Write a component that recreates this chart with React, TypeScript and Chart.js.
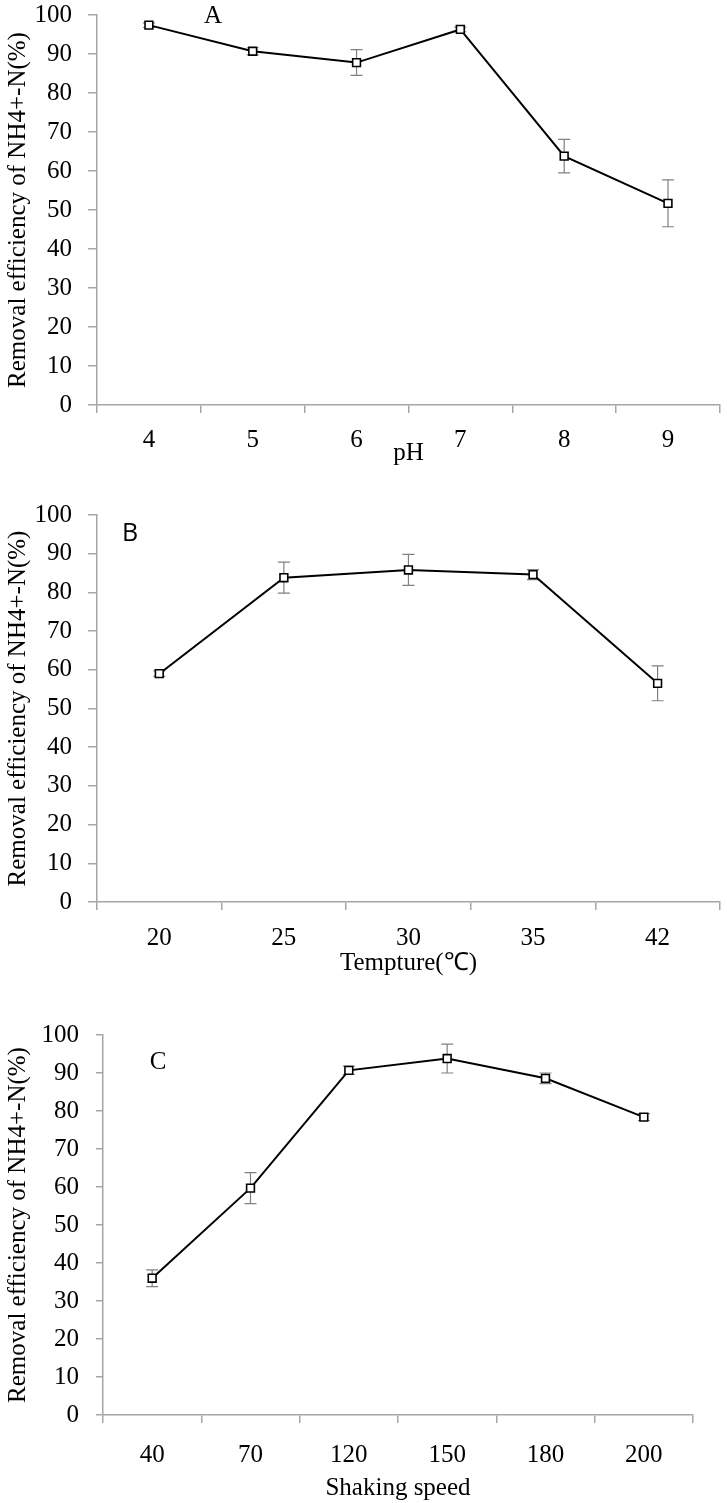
import React, { useEffect, useRef } from "react";
import { Chart, registerables } from "chart.js";

Chart.register(...registerables);

// ---------- data ----------
const phLabels = ["4", "5", "6", "7", "8", "9"];
const phValues = [97.4, 90.7, 87.8, 96.3, 63.8, 51.7];
const phErrors = [0.6, 0.9, 3.3, 0.6, 4.3, 6.0];

const tempLabels = ["20", "25", "30", "35", "42"];
const tempValues = [59.0, 83.8, 85.8, 84.6, 56.5];
const tempErrors = [0.7, 4.0, 4.0, 1.3, 4.5];

const speedLabels = ["40", "70", "120", "150", "180", "200"];
const speedValues = [36.0, 59.7, 90.7, 93.8, 88.6, 78.4];
const speedErrors = [2.2, 4.1, 1.1, 3.8, 1.4, 0.9];

const yMin = 0;
const yMax = 100;
const yStep = 10;
const yTitle = "Removal efficiency of NH4+-N(%)";

const SERIF = "'Liberation Serif', 'Times New Roman', serif";
const AXIS = "#a6a6a6";

const errorBarPlugin = {
  id: "errorBars",
  beforeDatasetsDraw(chart: any, _args: any, opts: any) {
    const errs: number[] = opts && opts.errors;
    if (!errs) return;
    const meta = chart.getDatasetMeta(0);
    const vals = chart.data.datasets[0].data as number[];
    const ys = chart.scales.y;
    const ctx = chart.ctx;
    ctx.save();
    ctx.strokeStyle = "#808080";
    ctx.lineWidth = 1.2;
    meta.data.forEach((pt: any, i: number) => {
      const e = errs[i];
      if (!e) return;
      const x = pt.x;
      const yt = ys.getPixelForValue(vals[i] + e);
      const yb = ys.getPixelForValue(vals[i] - e);
      ctx.beginPath();
      ctx.moveTo(x, yt);
      ctx.lineTo(x, yb);
      ctx.moveTo(x - 6, yt);
      ctx.lineTo(x + 6, yt);
      ctx.moveTo(x - 6, yb);
      ctx.lineTo(x + 6, yb);
      ctx.stroke();
    });
    ctx.restore();
  },
};

type PanelProps = {
  labels: string[];
  values: number[];
  errors: number[];
  xTitle: string;
  top: number;
  height: number;
  padTop: number;
  padRight: number;
  yWidth: number;
  yTickLen: number;
  yTickPad: number;
  xTickPad: number;
  xHeight: number;
};

function Panel(p: PanelProps) {
  const ref = useRef<HTMLCanvasElement | null>(null);
  useEffect(() => {
    if (!ref.current) return;
    const font = { family: SERIF, size: 25 };
    const chart = new Chart(ref.current, {
      type: "line",
      data: {
        labels: p.labels,
        datasets: [
          {
            data: p.values,
            borderColor: "#000000",
            borderWidth: 2,
            tension: 0,
            pointStyle: "rect",
            pointRadius: 5.5,
            pointBorderWidth: 1.6,
            pointBorderColor: "#000000",
            pointBackgroundColor: "#ffffff",
            fill: false,
          },
        ],
      },
      plugins: [errorBarPlugin],
      options: {
        animation: false,
        responsive: false,
        devicePixelRatio: 1,
        layout: { padding: { top: p.padTop, right: p.padRight, left: 0, bottom: 0 } },
        plugins: {
          legend: { display: false },
          tooltip: { enabled: false },
          errorBars: { errors: p.errors },
        } as any,
        scales: {
          x: {
            type: "category",
            offset: true,
            grid: {
              display: true,
              offset: true,
              drawOnChartArea: false,
              drawTicks: true,
              tickLength: 8,
              color: AXIS,
              lineWidth: 1.5,
            },
            border: { display: true, color: AXIS, width: 1.5 },
            ticks: { color: "#000", font, padding: p.xTickPad, maxRotation: 0 },
            title: {
              display: true,
              text: p.xTitle,
              color: "#000",
              font,
              padding: 0,
            },
            afterFit(scale: any) {
              scale.height = p.xHeight;
            },
          },
          y: {
            min: yMin,
            max: yMax,
            grid: {
              display: true,
              drawOnChartArea: false,
              drawTicks: true,
              tickLength: p.yTickLen,
              color: AXIS,
              lineWidth: 1.5,
            },
            border: { display: true, color: AXIS, width: 1.5 },
            ticks: { stepSize: yStep, color: "#000", font, padding: p.yTickPad },
            title: {
              display: true,
              text: yTitle,
              color: "#000",
              font,
              padding: { top: 3.5, bottom: 0 },
            },
            afterFit(scale: any) {
              scale.width = p.yWidth;
            },
          },
        },
      } as any,
    });
    return () => chart.destroy();
  }, []);
  return (
    <canvas
      ref={ref}
      width={727}
      height={p.height}
      style={{ position: "absolute", left: 0, top: p.top, width: 727, height: p.height }}
    />
  );
}

const letterStyle = (x: number, y: number, family: string): React.CSSProperties => ({
  position: "absolute",
  left: x,
  top: y,
  transform: "translate(-50%, -50%)",
  fontFamily: family,
  fontSize: 25,
  lineHeight: 1,
  color: "#000",
});

export default function App() {
  useEffect(() => {
    document.body.style.margin = "0";
  }, []);
  return (
    <div style={{ position: "relative", width: 727, height: 1503, overflow: "hidden", background: "#fff" }}>
      <Panel
        labels={phLabels}
        values={phValues}
        errors={phErrors}
        xTitle="pH"
        top={-16}
        height={30 + 391 + 63}
        padTop={30}
        padRight={2}
        yWidth={97}
        yTickLen={9}
        yTickPad={16}
        xTickPad={12}
        xHeight={63}
      />
      <Panel
        labels={tempLabels}
        values={tempValues}
        errors={tempErrors}
        xTitle="Tempture(℃)"
        top={484}
        height={30 + 388 + 76}
        padTop={30}
        padRight={6}
        yWidth={97}
        yTickLen={9}
        yTickPad={16}
        xTickPad={13}
        xHeight={76}
      />
      <Panel
        labels={speedLabels}
        values={speedValues}
        errors={speedErrors}
        xTitle="Shaking speed"
        top={1003}
        height={30 + 382 + 88}
        padTop={30}
        padRight={34}
        yWidth={103}
        yTickLen={7}
        yTickPad={17}
        xTickPad={17}
        xHeight={88}
      />
      <div style={letterStyle(213, 14, SERIF)}>A</div>
      <div style={letterStyle(130, 531, "'Open Sans', 'DejaVu Sans', sans-serif")}>B</div>
      <div style={letterStyle(158, 1060, SERIF)}>C</div>
    </div>
  );
}
